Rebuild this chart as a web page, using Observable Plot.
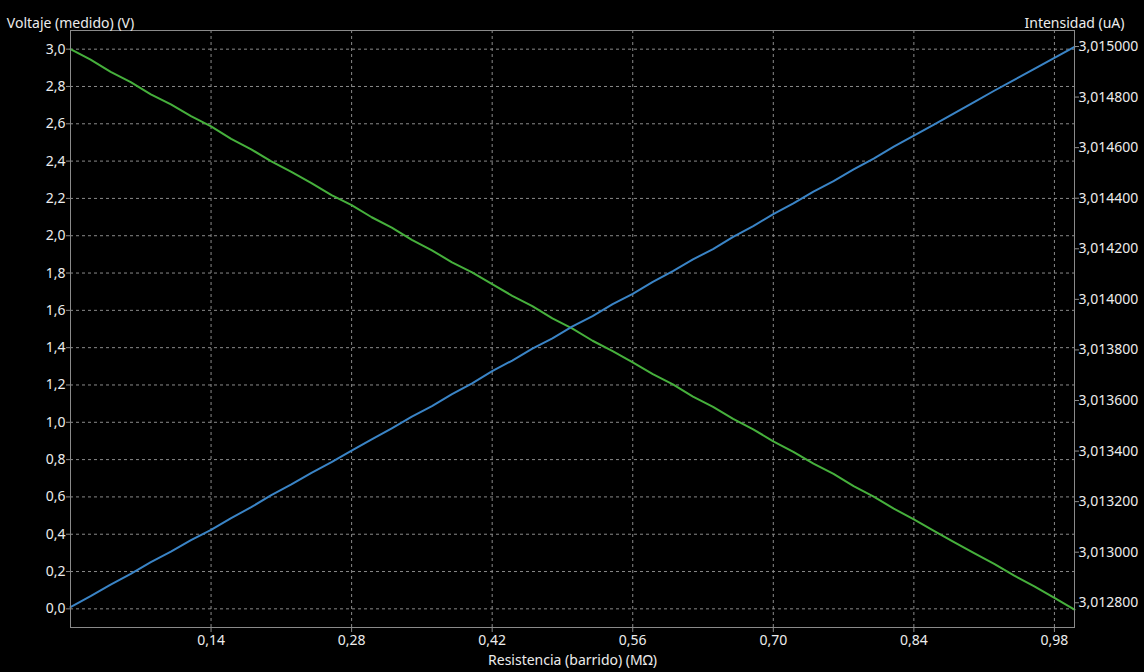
<!DOCTYPE html>
<html>
<head>
<meta charset="utf-8">
<script src="https://cdn.jsdelivr.net/npm/d3@7"></script>
<script src="https://cdn.jsdelivr.net/npm/@observablehq/plot@0.6"></script>
<style>
  html, body { margin: 0; padding: 0; background: #000; }
  #chart { width: 1144px; height: 672px; }
</style>
</head>
<body>
<div id="chart"></div>
<script>
// Resistencia (barrido) (MΩ)
const resistencia = [0.00,0.02,0.04,0.06,0.08,0.10,0.12,0.14,0.16,0.18,0.20,0.22,0.24,0.26,0.28,0.30,0.32,0.34,0.36,0.38,0.40,0.42,0.44,0.46,0.48,0.50,0.52,0.54,0.56,0.58,0.60,0.62,0.64,0.66,0.68,0.70,0.72,0.74,0.76,0.78,0.80,0.82,0.84,0.86,0.88,0.90,0.92,0.94,0.96,0.98,1.00];
// Voltaje (medido) (V)
const voltaje = [3.000,2.944,2.878,2.823,2.758,2.704,2.641,2.586,2.519,2.463,2.398,2.342,2.282,2.218,2.164,2.099,2.043,1.978,1.922,1.857,1.803,1.741,1.678,1.623,1.557,1.502,1.437,1.381,1.321,1.258,1.203,1.137,1.082,1.018,0.962,0.898,0.841,0.778,0.723,0.658,0.602,0.537,0.479,0.418,0.358,0.298,0.241,0.178,0.121,0.059,-0.004];
// Intensidad (uA)
const intensidad = [3.012783,3.012826,3.012872,3.012914,3.012961,3.013002,3.013048,3.013088,3.013135,3.013178,3.013226,3.013268,3.013314,3.013356,3.013402,3.013446,3.013490,3.013536,3.013578,3.013625,3.013668,3.013716,3.013758,3.013805,3.013846,3.013893,3.013934,3.013981,3.014022,3.014069,3.014112,3.014158,3.014199,3.014247,3.014290,3.014337,3.014380,3.014426,3.014468,3.014514,3.014557,3.014604,3.014648,3.014691,3.014736,3.014780,3.014825,3.014868,3.014912,3.014955,3.014999];

const xTicks = [0.14,0.28,0.42,0.56,0.70,0.84,0.98];
const yTicks = [0,0.2,0.4,0.6,0.8,1.0,1.2,1.4,1.6,1.8,2.0,2.2,2.4,2.6,2.8,3.0];
const y2Ticks = [3.0128,3.0130,3.0132,3.0134,3.0136,3.0138,3.0140,3.0142,3.0144,3.0146,3.0148,3.0150];

const yDomain = [-0.1, 3.1];
const y2Domain = [3.0127022, 3.0150633];

const titleY = "Voltaje (medido) (V)";
const titleY2 = "Intensidad (uA)";
const titleX = "Resistencia (barrido) (MΩ)";

const green = "#46b03c";
const blue = "#3a84c6";
const gridColor = "#8a8a8a";
const textColor = "#ececec";

// map right-axis values onto the left (voltage) scale
const toLeft = d3.scaleLinear().domain(y2Domain).range(yDomain);

const vData = resistencia.map((r, i) => ({r, v: voltaje[i]}));
const iData = resistencia.map((r, i) => ({r, v: toLeft(intensidad[i])}));

const comma = (d, n) => d.toFixed(n).replace(".", ",");

const chart = Plot.plot({
  width: 1144,
  height: 672,
  marginLeft: 70,
  marginRight: 70,
  marginTop: 30,
  marginBottom: 45,
  style: {background: "#000", color: textColor, fontFamily: "'Noto Sans', sans-serif", fontSize: "14px"},
  x: {domain: [0, 1]},
  y: {domain: yDomain},
  marks: [
    Plot.gridX(xTicks, {stroke: gridColor, strokeOpacity: 1, strokeDasharray: "3,3"}),
    Plot.gridY(yTicks, {stroke: gridColor, strokeOpacity: 1, strokeDasharray: "3,3"}),
    Plot.line(vData, {x: "r", y: "v", stroke: green, strokeWidth: 2}),
    Plot.line(iData, {x: "r", y: "v", stroke: blue, strokeWidth: 2}),
    Plot.frame({stroke: gridColor, strokeOpacity: 1}),
    Plot.axisX(xTicks, {tickFormat: d => comma(d, 2), tickSize: 5, tickPadding: 3, stroke: gridColor, fill: textColor, label: null, fontSize: 14}),
    Plot.axisY(yTicks, {anchor: "left", tickFormat: d => comma(d, 1), tickSize: 4, tickPadding: 1, stroke: gridColor, fill: textColor, label: null, fontSize: 14}),
    Plot.axisY(y2Ticks.map(t => toLeft(t)), {anchor: "right", tickFormat: d => comma(toLeft.invert(d), 6), tickSize: 4, tickPadding: 0, stroke: gridColor, fill: textColor, label: null, fontSize: 14}),
    Plot.text([titleY], {frameAnchor: "top-left", text: d => d, textAnchor: "middle", dy: -12, fill: textColor, fontSize: 14}),
    Plot.text([titleY2], {frameAnchor: "top-right", text: d => d, textAnchor: "middle", dy: -12, fill: textColor, fontSize: 14}),
    Plot.text([titleX], {frameAnchor: "bottom", text: d => d, textAnchor: "middle", dy: 37, fill: textColor, fontSize: 14})
  ]
});
document.getElementById("chart").appendChild(chart);
</script>
</body>
</html>
